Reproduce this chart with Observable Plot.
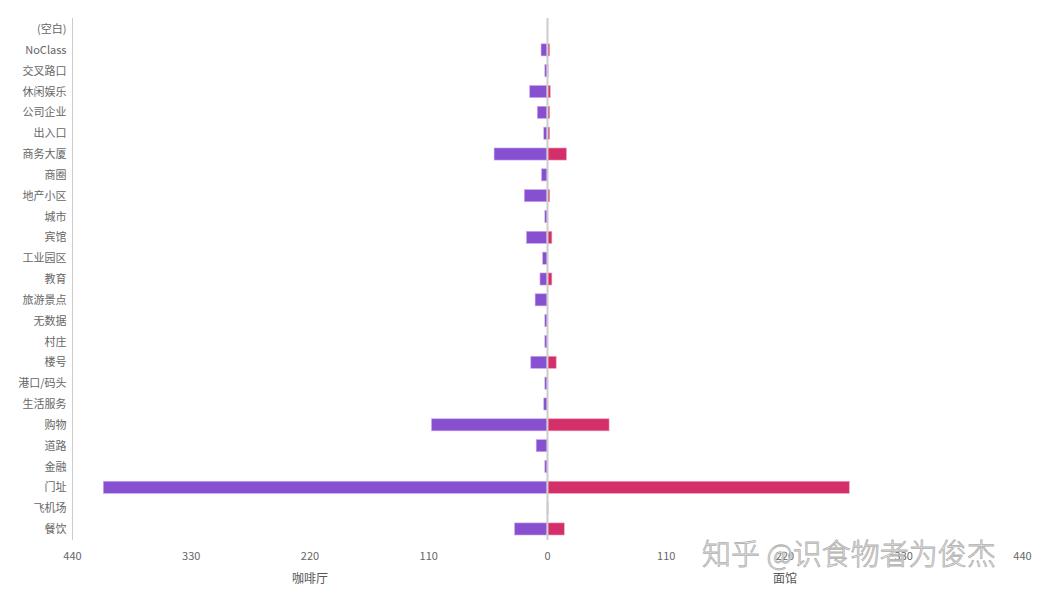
<!DOCTYPE html>
<html>
<head>
<meta charset="utf-8">
<script src="https://cdn.jsdelivr.net/npm/d3@7"></script>
<script src="https://cdn.jsdelivr.net/npm/@observablehq/plot@0.6"></script>
<style>
  body { margin: 0; background: #fff; font-family: "Noto Sans CJK SC", "Noto Sans", sans-serif; }
  #wrap { position: relative; width: 1042px; height: 596px; }
  #wm { position: absolute; left: 702px; top: 537px; font-size: 29px; line-height: 30px; height: 30px; color: #f2f2f2;
        -webkit-text-stroke: 0.8px #b0b0b0; letter-spacing: 0px; white-space: nowrap;
        font-family: "Noto Sans CJK SC", sans-serif; font-weight: 300; pointer-events: none; }
</style>
</head>
<body>
<div id="wrap"><div id="chart"></div><div id="wm">知乎 @识食物者为俊杰</div></div>
<script>
const categories = ["(空白)","NoClass","交叉路口","休闲娱乐","公司企业","出入口","商务大厦","商圈","地产小区","城市","宾馆","工业园区","教育","旅游景点","无数据","村庄","楼号","港口/码头","生活服务","购物","道路","金融","门址","飞机场","餐饮"];
const cafe   = [0, 5.5, 2, 16, 9, 3, 49, 5, 21, 2, 19, 4, 6.5, 11, 2, 2, 15, 2, 3, 107, 10, 2, 411, 0, 30];
const noodle = [0, 2.5, 1, 3, 2.5, 2.5, 18, 0, 2.5, 0, 4.5, 0, 4.5, 0, 0, 0, 8.5, 0, 0, 57.5, 0, 0, 280, 1, 16];
const tickValues = [-440, -330, -220, -110, 0, 110, 220, 330, 440];
const seriesNames = ["咖啡厅", "面馆"];

const rows = categories.map((c, i) => ({cat: c, cafe: cafe[i], noodle: noodle[i]}));

const chart = Plot.plot({
  width: 1042,
  height: 596,
  marginTop: 18,
  marginBottom: 56,
  marginLeft: 72,
  marginRight: 20,
  style: {fontFamily: "'Noto Sans CJK SC', sans-serif", fontSize: "11px", color: "#666", background: "#fff"},
  x: {domain: [-440, 440], ticks: tickValues, tickFormat: d => Math.abs(d), tickSize: 0, tickPadding: 12, label: null},
  y: {domain: categories, paddingInner: 0.42, paddingOuter: 0.24, round: false, tickSize: 0, tickPadding: 6, label: null},
  marks: [
    Plot.ruleX([-440], {stroke: "#ccc", strokeWidth: 1}),
    Plot.barX(rows, {y: "cat", x1: 0, x2: d => -d.cafe, fill: "#8650d0", stroke: "#c8a8ee", strokeWidth: 0.6}),
    Plot.barX(rows, {y: "cat", x1: 0, x2: "noodle", fill: "#d42f6b", stroke: "#eea0bc", strokeWidth: 0.6}),
    Plot.ruleX([0], {stroke: "#ccc", strokeWidth: 2}),
    Plot.text([seriesNames[0]], {x: -220, text: d => d, frameAnchor: "bottom", dy: 42, fontSize: 12, fill: "#555"}),
    Plot.text([seriesNames[1]], {x: 220, text: d => d, frameAnchor: "bottom", dy: 42, fontSize: 12, fill: "#555"})
  ]
});
document.getElementById("chart").appendChild(chart);
</script>
</body>
</html>
